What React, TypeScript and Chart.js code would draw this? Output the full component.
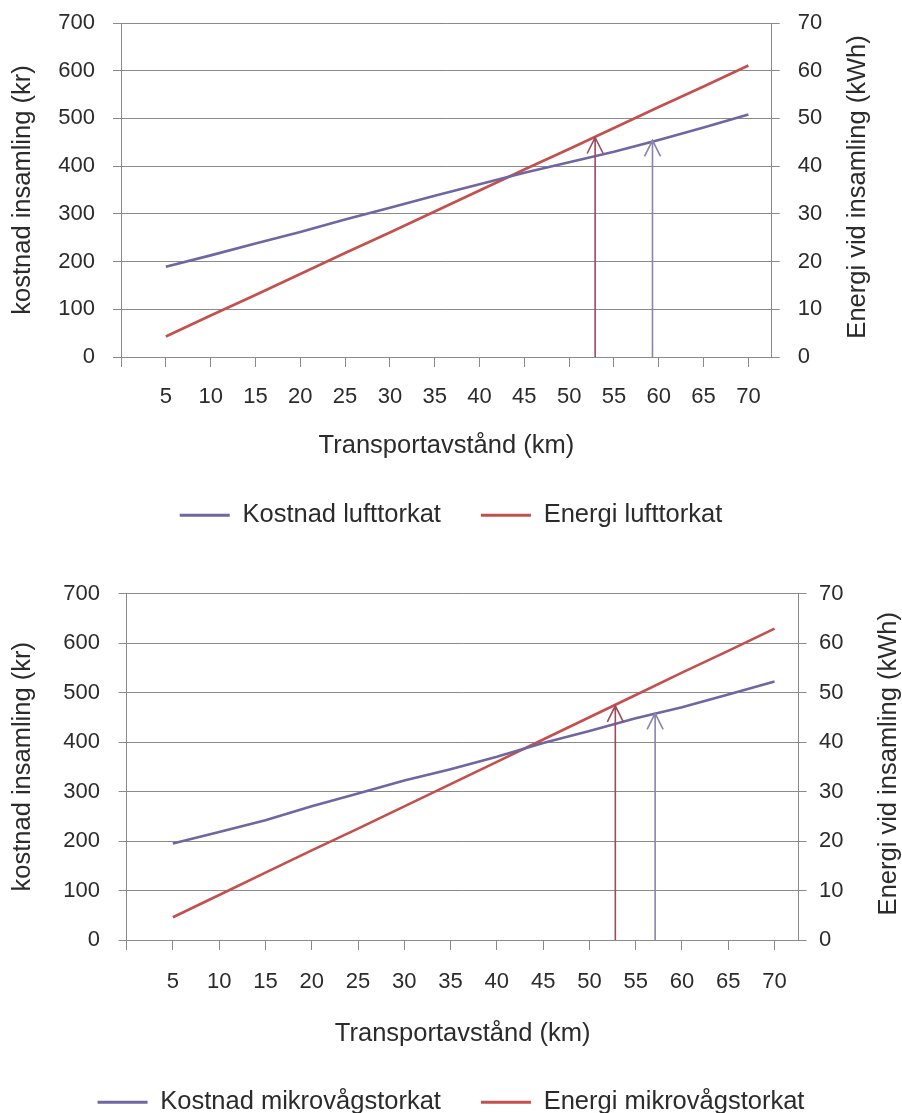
import React, { useEffect, useRef } from 'react';
import { Chart, registerables } from 'chart.js';

Chart.register(...registerables);

// ---------- data ----------
const distances = [5, 10, 15, 20, 25, 30, 35, 40, 45, 50, 55, 60, 65, 70];
const xTickValues = [0, 5, 10, 15, 20, 25, 30, 35, 40, 45, 50, 55, 60, 65, 70];
const costTickValues = [0, 100, 200, 300, 400, 500, 600, 700];
const energyTickValues = [0, 10, 20, 30, 40, 50, 60, 70];

const kostnadLufttorkat = [189, 213, 238, 262, 288, 313, 338, 362, 386, 408, 430, 455, 481, 508];
const energiLufttorkat = [4.3, 8.7, 13.0, 17.4, 21.8, 26.1, 30.5, 34.9, 39.3, 43.6, 48.0, 52.4, 56.7, 61.1];

const kostnadMikro = [195, 218, 242, 270, 296, 322, 345, 370, 398, 422, 448, 470, 496, 522];
const energiMikro = [4.6, 9.1, 13.6, 18.1, 22.5, 27.0, 31.5, 36.0, 40.5, 45.0, 49.5, 54.0, 58.4, 62.9];

// arrows: x position (km), tip value, axis of tip value
const arrowLuftX = [52.9, 59.3];
const arrowLuftTip = [46.0, 454];
const arrowMikroX = [52.8, 57.1];
const arrowMikroTip = [47.3, 458];
const arrowAxes = ['y1', 'y'];

// ---------- style ----------
const FONT = "'Liberation Sans', Arial, Helvetica, sans-serif";
const TEXT = '#2b2b2b';
const GRID = '#8a8a8a';
const PURPLE = '#7166a2';
const RED = '#c4504e';
const ARROW_RED = '#9c4a5c';
const ARROW_PURPLE = '#8a84ae';
const X_MAX = 72.6;

const rightTitlePlugin = {
  id: 'rightTitle',
  afterDraw(chart: any, _args: any, opts: any) {
    const { ctx, chartArea } = chart;
    ctx.save();
    ctx.font = `${opts.size}px ${FONT}`;
    ctx.fillStyle = TEXT;
    ctx.textAlign = 'center';
    ctx.textBaseline = 'middle';
    ctx.translate(opts.x, (chartArea.top + chartArea.bottom) / 2 + (opts.dy || 0));
    ctx.rotate(-Math.PI / 2);
    ctx.fillText(opts.text, 0, 0);
    ctx.restore();
  },
};

const arrowPlugin = {
  id: 'arrows',
  afterDatasetsDraw(chart: any, _args: any, opts: any) {
    const { ctx } = chart;
    const xs = chart.scales.x;
    const xsArr: number[] = opts.xs;
    const tips: number[] = opts.tips;
    const axes: string[] = opts.axes;
    const colors: string[] = opts.colors;
    xsArr.forEach((xv, i) => {
      const ys = chart.scales[axes[i]];
      const px = xs.getPixelForValue(xv);
      const p0 = ys.getPixelForValue(0);
      const p1 = ys.getPixelForValue(tips[i]);
      ctx.save();
      ctx.strokeStyle = colors[i];
      ctx.lineWidth = 1.6;
      ctx.beginPath();
      ctx.moveTo(px, p0);
      ctx.lineTo(px, p1);
      ctx.moveTo(px - 8, p1 + 16);
      ctx.lineTo(px, p1);
      ctx.lineTo(px + 8, p1 + 16);
      ctx.stroke();
      ctx.restore();
    });
  },
};

interface Layout {
  padTop: number;
  leftW: number;
  rightW: number;
  xH: number;
  leftTitlePad: number;
  leftTickPad: number;
  rightTickPad: number;
  xTickPad: number;
  xTitlePadBottom: number;
  rightTitleX: number;
}

function makeConfig(
  costs: number[],
  energy: number[],
  costLabel: string,
  energyLabel: string,
  arrowX: number[],
  arrowTip: number[],
  L: Layout
): any {
  const tickFont = { size: 22, family: FONT };
  const titleFont = { size: 25.5, family: FONT };
  return {
    type: 'line',
    data: {
      datasets: [
        {
          label: costLabel,
          data: distances.map((d, i) => ({ x: d, y: costs[i] })),
          borderColor: PURPLE,
          backgroundColor: PURPLE,
          borderWidth: 2.6,
          pointRadius: 0,
          tension: 0,
          yAxisID: 'y',
        },
        {
          label: energyLabel,
          data: distances.map((d, i) => ({ x: d, y: energy[i] })),
          borderColor: RED,
          backgroundColor: RED,
          borderWidth: 2.6,
          pointRadius: 0,
          tension: 0,
          yAxisID: 'y1',
        },
      ],
    },
    options: {
      responsive: false,
      animation: false,
      events: [],
      layout: { padding: { top: L.padTop, left: 0, right: 0, bottom: 0 } },
      scales: {
        x: {
          type: 'linear',
          min: 0,
          max: X_MAX,
          afterBuildTicks: (s: any) => {
            s.ticks = xTickValues.map((v) => ({ value: v }));
          },
          afterFit: (s: any) => {
            s.height = L.xH;
          },
          grid: { drawOnChartArea: false, drawTicks: true, tickLength: 10, color: GRID, lineWidth: 1 },
          border: { display: true, color: GRID, width: 1 },
          ticks: {
            autoSkip: false,
            maxRotation: 0,
            padding: L.xTickPad,
            font: tickFont,
            color: TEXT,
            callback: (v: any) => (v === 0 ? '' : String(v)),
          },
          title: {
            display: true,
            text: 'Transportavstånd (km)',
            font: titleFont,
            color: TEXT,
            padding: { top: 0, bottom: L.xTitlePadBottom },
          },
        },
        y: {
          position: 'left',
          min: 0,
          max: 700,
          afterBuildTicks: (s: any) => {
            s.ticks = costTickValues.map((v) => ({ value: v }));
          },
          afterFit: (s: any) => {
            s.width = L.leftW;
          },
          grid: { color: GRID, tickLength: 8, lineWidth: 1 },
          border: { display: true, color: GRID, width: 1 },
          ticks: { padding: L.leftTickPad, font: tickFont, color: TEXT },
          title: {
            display: true,
            text: 'kostnad insamling (kr)',
            font: titleFont,
            color: TEXT,
            padding: { top: L.leftTitlePad, bottom: 0 },
          },
        },
        y1: {
          position: 'right',
          min: 0,
          max: 70,
          afterBuildTicks: (s: any) => {
            s.ticks = energyTickValues.map((v) => ({ value: v }));
          },
          afterFit: (s: any) => {
            s.width = L.rightW;
          },
          grid: { drawOnChartArea: false, color: GRID, tickLength: 8, lineWidth: 1 },
          border: { display: true, color: GRID, width: 1 },
          ticks: { padding: L.rightTickPad, font: tickFont, color: TEXT },
        },
      },
      plugins: {
        tooltip: { enabled: false },
        legend: {
          position: 'bottom',
          labels: {
            boxWidth: 50,
            boxHeight: 3,
            padding: 40,
            font: titleFont,
            color: TEXT,
            generateLabels: (chart: any) =>
              chart.data.datasets.map((d: any, i: number) => ({
                text: d.label,
                fillStyle: d.borderColor,
                strokeStyle: d.borderColor,
                lineWidth: 0,
                hidden: false,
                datasetIndex: i,
                fontColor: TEXT,
              })),
          },
        },
        rightTitle: { text: 'Energi vid insamling (kWh)', x: L.rightTitleX, size: 25.5, dy: -3 },
        arrows: {
          xs: arrowX,
          tips: arrowTip,
          axes: arrowAxes,
          colors: [ARROW_RED, ARROW_PURPLE],
        },
      },
    },
    plugins: [rightTitlePlugin, arrowPlugin],
  };
}

// canvas 1 starts above the page so its plot top can sit at y = 23
const TOP1 = -20;
const H1 = 558;
const TOP2 = 538;
const H2 = 587;

export default function App() {
  const ref1 = useRef<HTMLCanvasElement | null>(null);
  const ref2 = useRef<HTMLCanvasElement | null>(null);

  useEffect(() => {
    Chart.defaults.font.family = FONT;
    const c1 = new Chart(
      ref1.current as HTMLCanvasElement,
      makeConfig(kostnadLufttorkat, energiLufttorkat, 'Kostnad lufttorkat', 'Energi lufttorkat', arrowLuftX, arrowLuftTip, {
        padTop: 43,
        leftW: 121,
        rightW: 902 - 771.7,
        xH: 105.5,
        leftTitlePad: 7.7,
        leftTickPad: 18,
        rightTickPad: 18,
        xTickPad: 17,
        xTitlePadBottom: 1,
        rightTitleX: 858,
      })
    );
    const c2 = new Chart(
      ref2.current as HTMLCanvasElement,
      makeConfig(kostnadMikro, energiMikro, 'Kostnad mikrovågstorkat', 'Energi mikrovågstorkat', arrowMikroX, arrowMikroTip, {
        padTop: 55.5,
        leftW: 126.6,
        rightW: 902 - 798.6,
        xH: 109.5,
        leftTitlePad: 8,
        leftTickPad: 18.6,
        rightTickPad: 12.4,
        xTickPad: 18.5,
        xTitlePadBottom: 0,
        rightTitleX: 889,
      })
    );
    return () => {
      c1.destroy();
      c2.destroy();
    };
  }, []);

  return (
    <div
      style={{
        position: 'absolute',
        left: 0,
        top: 0,
        width: 902,
        height: 1113,
        overflow: 'hidden',
        background: '#ffffff',
      }}
    >
      <canvas
        ref={ref1}
        width={902}
        height={H1}
        style={{ position: 'absolute', left: 0, top: TOP1, width: 902, height: H1 }}
      />
      <canvas
        ref={ref2}
        width={902}
        height={H2}
        style={{ position: 'absolute', left: 0, top: TOP2, width: 902, height: H2 }}
      />
    </div>
  );
}
